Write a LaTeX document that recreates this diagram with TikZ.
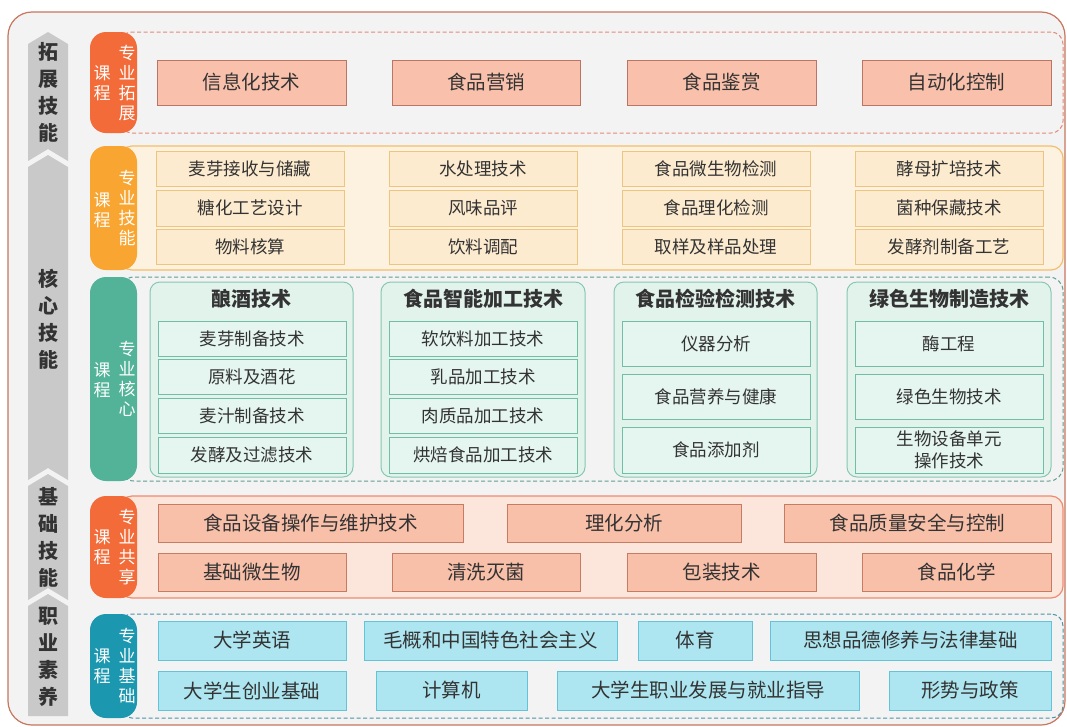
\documentclass[tikz,border=0pt]{standalone}
\usepackage{fontspec}
\setmainfont{Noto Sans CJK SC}
\definecolor{framec}{HTML}{C8765E}
\definecolor{bgc}{HTML}{F3F3F3}
\definecolor{grayc}{HTML}{C9C9C9}
\definecolor{tabA}{HTML}{F26B38}
\definecolor{tabB}{HTML}{F8A532}
\definecolor{tabC}{HTML}{52B398}
\definecolor{tabD}{HTML}{1B97AF}
\definecolor{cA}{HTML}{E58A78}
\definecolor{cBd}{HTML}{F5BE6A}
\definecolor{cBf}{HTML}{FDF2DF}
\definecolor{cC}{HTML}{5F9E8F}
\definecolor{cDd}{HTML}{EE8B6E}
\definecolor{cDf}{HTML}{FCE5DB}
\definecolor{cE}{HTML}{4B93A6}
\definecolor{bAf}{HTML}{F9C1AB}
\definecolor{bAd}{HTML}{BA7564}
\definecolor{bBf}{HTML}{FDEBCF}
\definecolor{bBd}{HTML}{EFC47E}
\definecolor{gCf}{HTML}{E2F3EC}
\definecolor{gCd}{HTML}{86C8B3}
\definecolor{iCf}{HTML}{E5F5EF}
\definecolor{iCd}{HTML}{72BDA6}
\definecolor{bDf}{HTML}{F8BFA9}
\definecolor{bDd}{HTML}{C67B63}
\definecolor{bEf}{HTML}{ADE6F0}
\definecolor{bEd}{HTML}{62C4D6}
\definecolor{txt}{HTML}{333333}
\newcommand\rbox[7]{\node[#2, minimum width={#5pt-#3pt}, minimum height={#6pt-#4pt}] (#1) at ({(#3+#5)/2},{(#4+#6)/2}) {#7};}
\begin{document}
\begin{tikzpicture}[x=1pt,y=-1pt,
  every node/.style={inner sep=0pt, outer sep=0pt, text=txt},
  frame/.style={draw=framec, fill=bgc, line width=1.2pt, rounded corners=24pt},
  dsh/.style={dash pattern=on 4pt off 2.5pt, line width=1pt},
  contA/.style={draw=cA, dsh, rounded corners=12pt},
  contB/.style={draw=cBd, fill=cBf, line width=1.2pt, rounded corners=12pt},
  contC/.style={draw=cC, dsh, rounded corners=14pt},
  contD/.style={draw=cDd, fill=cDf, line width=1.2pt, rounded corners=12pt},
  contE/.style={draw=cE, dsh, rounded corners=12pt},
  tab/.style={rounded corners=16pt},
  tabtxt/.style={text=white, align=center, font=\fontsize{17}{20}\selectfont},
  side/.style={align=center, font=\fontsize{20}{27}\selectfont\bfseries},
  bA/.style={draw=bAd, fill=bAf, line width=0.9pt, font=\fontsize{19.5}{22}\selectfont},
  bB/.style={draw=bBd, fill=bBf, line width=0.9pt, font=\fontsize{17.5}{20}\selectfont},
  gC/.style={draw=gCd, fill=gCf, line width=1pt, rounded corners=10pt},
  iC/.style={draw=iCd, fill=iCf, line width=0.9pt, align=center, font=\fontsize{17.5}{22}\selectfont},
  ttl/.style={font=\fontsize{20}{22}\selectfont\bfseries},
  bD/.style={draw=bDd, fill=bDf, line width=0.9pt, font=\fontsize{19.5}{22}\selectfont},
  bE/.style={draw=bEd, fill=bEf, line width=0.9pt, font=\fontsize{19.5}{22}\selectfont}
]
\useasboundingbox (0,0) rectangle (1067,726);
\fill[white] (0,0) rectangle (1067,726);
\rbox{frame}{frame}{8}{12}{1065}{725}{}

% left gray chevron column
\fill[grayc] (28,44) -- (48,32) -- (68,44) -- (68,161) -- (48,149) -- (28,161) -- cycle;
\fill[grayc] (28,167) -- (48,155) -- (68,167) -- (68,480) -- (48,468) -- (28,480) -- cycle;
\fill[grayc] (28,486) -- (48,474) -- (68,486) -- (68,600) -- (48,588) -- (28,600) -- cycle;
\fill[grayc] (28,606) -- (48,594) -- (68,606) -- (68,716) -- (28,716) -- cycle;
\node[side] (s1) at (48,92) {拓\\展\\技\\能};
\node[side] (s2) at (48,319) {核\\心\\技\\能};
\node[side] (s3) at (48,537) {基\\础\\技\\能};
\node[side] (s4) at (48,657) {职\\业\\素\\养};

% containers
\rbox{rowA}{contA}{120}{32}{1063}{133}{}
\rbox{rowB}{contB}{120}{146}{1063}{270}{}
\rbox{rowC}{contC}{120}{277}{1063}{481}{}
\rbox{rowD}{contD}{120}{496}{1063}{598}{}
\rbox{rowE}{contE}{120}{614}{1063}{718}{}

% tabs
\rbox{tA}{tab, fill=tabA}{90}{32}{137}{133}{}
\rbox{tB}{tab, fill=tabB}{90}{146}{137}{270}{}
\rbox{tC}{tab, fill=tabC}{90}{277}{137}{481}{}
\rbox{tD}{tab, fill=tabA}{90}{496}{137}{598}{}
\rbox{tE}{tab, fill=tabD}{90}{614}{137}{718}{}
\node[tabtxt] (tA1) at (102,83) {课\\程};
\node[tabtxt] (tA2) at (127,83) {专\\业\\拓\\展};
\node[tabtxt] (tB1) at (102,210) {课\\程};
\node[tabtxt] (tB2) at (127,208) {专\\业\\技\\能};
\node[tabtxt] (tC1) at (102,380) {课\\程};
\node[tabtxt] (tC2) at (127,379) {专\\业\\核\\心};
\node[tabtxt] (tD1) at (102,547) {课\\程};
\node[tabtxt] (tD2) at (127,547) {专\\业\\共\\享};
\node[tabtxt] (tE1) at (102,666) {课\\程};
\node[tabtxt] (tE2) at (127,666) {专\\业\\基\\础};

% row A
\rbox{a1}{bA}{157}{60}{346}{105}{信息化技术}
\rbox{a2}{bA}{392}{60}{580}{105}{食品营销}
\rbox{a3}{bA}{627}{60}{816}{105}{食品鉴赏}
\rbox{a4}{bA}{862}{60}{1051}{105}{自动化控制}

% row B
\rbox{b11}{bB}{156}{151}{344}{186}{麦芽接收与储藏}
\rbox{b12}{bB}{156}{190}{344}{226}{糖化工艺设计}
\rbox{b13}{bB}{156}{229}{344}{264}{物料核算}
\rbox{b21}{bB}{389}{151}{577}{186}{水处理技术}
\rbox{b22}{bB}{389}{190}{577}{226}{风味品评}
\rbox{b23}{bB}{389}{229}{577}{264}{饮料调配}
\rbox{b31}{bB}{622}{151}{810}{186}{食品微生物检测}
\rbox{b32}{bB}{622}{190}{810}{226}{食品理化检测}
\rbox{b33}{bB}{622}{229}{810}{264}{取样及样品处理}
\rbox{b41}{bB}{855}{151}{1043}{186}{酵母扩培技术}
\rbox{b42}{bB}{855}{190}{1043}{226}{菌种保藏技术}
\rbox{b43}{bB}{855}{229}{1043}{264}{发酵剂制备工艺}

% row C groups
\rbox{g1}{gC}{150}{282}{353}{477}{}
\rbox{g2}{gC}{381}{282}{585}{477}{}
\rbox{g3}{gC}{614}{282}{817}{477}{}
\rbox{g4}{gC}{847}{282}{1051}{477}{}
\node[ttl] (g1t) at (251.5,299) {酿酒技术};
\node[ttl] (g2t) at (483,299) {食品智能加工技术};
\node[ttl] (g3t) at (715.5,299) {食品检验检测技术};
\node[ttl] (g4t) at (949,299) {绿色生物制造技术};
\rbox{c11}{iC}{158}{321}{346}{356}{麦芽制备技术}
\rbox{c12}{iC}{158}{359}{346}{394}{原料及酒花}
\rbox{c13}{iC}{158}{398}{346}{433}{麦汁制备技术}
\rbox{c14}{iC}{158}{437}{346}{473}{发酵及过滤技术}
\rbox{c21}{iC}{389}{321}{577}{356}{软饮料加工技术}
\rbox{c22}{iC}{389}{359}{577}{394}{乳品加工技术}
\rbox{c23}{iC}{389}{398}{577}{433}{肉质品加工技术}
\rbox{c24}{iC}{389}{437}{577}{473}{烘焙食品加工技术}
\rbox{c31}{iC}{622}{321}{810}{366}{仪器分析}
\rbox{c32}{iC}{622}{374}{810}{419}{食品营养与健康}
\rbox{c33}{iC}{622}{427}{810}{473}{食品添加剂}
\rbox{c41}{iC}{855}{321}{1043}{366}{酶工程}
\rbox{c42}{iC}{855}{374}{1043}{419}{绿色生物技术}
\rbox{c43}{iC}{855}{427}{1043}{473}{生物设备单元\\操作技术}

% row D
\rbox{d1}{bD}{158}{504}{463}{542}{食品设备操作与维护技术}
\rbox{d2}{bD}{507}{504}{741}{542}{理化分析}
\rbox{d3}{bD}{784}{504}{1051}{542}{食品质量安全与控制}
\rbox{d4}{bD}{158}{553}{346}{591}{基础微生物}
\rbox{d5}{bD}{392}{553}{580}{591}{清洗灭菌}
\rbox{d6}{bD}{627}{553}{816}{591}{包装技术}
\rbox{d7}{bD}{862}{553}{1051}{591}{食品化学}

% row E
\rbox{e1}{bE}{158}{621}{346}{660}{大学英语}
\rbox{e2}{bE}{364}{621}{617}{660}{毛概和中国特色社会主义}
\rbox{e3}{bE}{638}{621}{752}{660}{体育}
\rbox{e4}{bE}{770}{621}{1051}{660}{思想品德修养与法律基础}
\rbox{e5}{bE}{158}{671}{346}{710}{大学生创业基础}
\rbox{e6}{bE}{376}{671}{527}{710}{计算机}
\rbox{e7}{bE}{557}{671}{859}{710}{大学生职业发展与就业指导}
\rbox{e8}{bE}{889}{671}{1051}{710}{形势与政策}
\end{tikzpicture}
\end{document}
